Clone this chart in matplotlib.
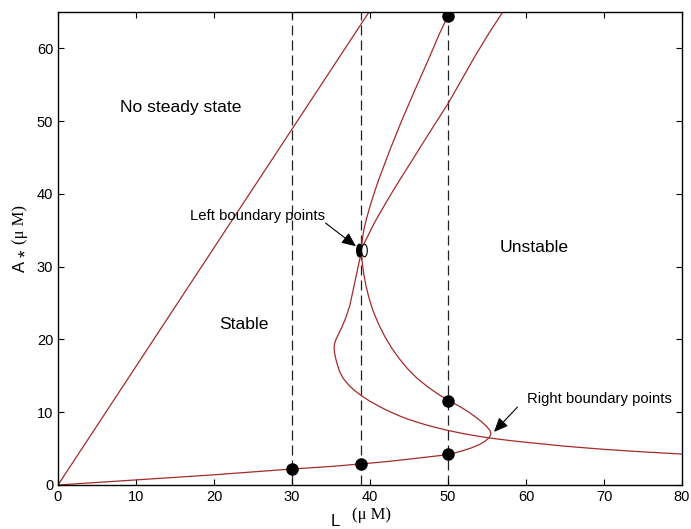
import numpy as np
import matplotlib
matplotlib.use("Agg")
import matplotlib.pyplot as plt
from matplotlib.path import Path
from matplotlib.transforms import Affine2D

# ---------------------------------------------------------------------------
# Data
# ---------------------------------------------------------------------------
# straight boundary line (no steady state above it)
line_L = [0, 40]
line_A = [0, 65.2]

# S-shaped steady-state curve
s1_L = [0, 2, 5, 10, 15, 20, 25, 30, 35, 38.9, 42, 45, 47, 49, 50, 51, 52,
        53, 54, 54.8, 55.3, 55.5, 55.4, 55.0, 54.3, 53.4, 52.4, 51.4, 50.3,
        49.0, 47.5, 46.0, 44.8, 43.8, 42.8, 41.9, 41.1, 40.4, 39.9, 39.5,
        39.2, 39.0, 38.9, 39.0, 39.2, 39.55, 40.0, 40.5, 41.1, 42.5, 44.0,
        45.6, 47.3, 48.9, 50.0, 50.3]
s1_A = [0, 0.14, 0.35, 0.7, 1.05, 1.4, 1.8, 2.2, 2.55, 2.9, 3.2, 3.55, 3.8,
        4.05, 4.2, 4.45, 4.75, 5.1, 5.55, 6.05, 6.55, 7.0, 7.45, 8.0, 8.7,
        9.45, 10.2, 10.85, 11.5, 12.3, 13.4, 14.7, 16.0, 17.3, 18.8, 20.4,
        22.1, 23.9, 25.6, 27.3, 29.0, 30.6, 32.1, 33.6, 35.0, 36.6, 38.3, 40.0,
        41.9, 45.9, 49.9, 53.9, 58.0, 62.0, 64.5, 65.2]

# C-shaped boundary curve
s2_L = [57.2, 55.2, 53.5, 51.7, 50, 48.2, 46.5, 45.1, 43.8, 42.6, 41.5, 40.6,
        39.9, 39.3, 38.9, 38.6, 38.2, 37.8, 37.4, 36.9, 36.4, 35.9, 35.6, 35.45,
        35.4, 35.45, 35.6, 35.8, 36.1, 36.6, 37.3, 38.0, 39.0, 40.0, 41.0,
        42.0, 43.0, 44.0, 45.0, 46.0, 47.0, 48.0, 49.0, 50.0, 52.0, 54.0, 55.4,
        58.0, 60.0, 65.0, 70.0, 75.0, 80.0]
s2_A = [65.3, 62.0, 59.0, 55.6, 52.4, 49.4, 46.5, 44.1, 41.9, 39.8, 37.8,
        36.1, 34.6, 33.3, 32.1, 30.6, 28.6, 26.6, 24.6, 23.0, 21.7, 20.6, 19.9,
        19.4, 18.8, 18.2, 17.4, 16.6, 15.6, 14.6, 13.7, 13.0, 12.2, 11.5, 10.9,
        10.35, 9.85, 9.4, 9.0, 8.65, 8.32, 8.02, 7.75, 7.5, 7.05, 6.68, 6.45,
        6.1, 5.87, 5.33, 4.9, 4.55, 4.25]

dash_L = [30, 38.9, 50]

dot_L = [30, 38.9, 50, 50, 50]
dot_A = [2.2, 2.9, 4.2, 11.5, 64.5]

left_pt_L = [38.6, 39.2]
left_pt_A = [32.3, 32.3]

xticks = [0, 10, 20, 30, 40, 50, 60, 70, 80]
yticks = [0, 10, 20, 30, 40, 50, 60]

# ---------------------------------------------------------------------------
# Figure
# ---------------------------------------------------------------------------
plt.rcParams["font.family"] = ["Liberation Sans", "DejaVu Sans"]
fig = plt.figure(figsize=(6.91, 5.29), dpi=100)
ax = fig.add_axes([58 / 691, 1 - 485 / 529, 624 / 691, 473 / 529])

red = "#a52a2a"
ax.plot(line_L, line_A, color=red, lw=0.9)
ax.plot(s1_L, s1_A, color=red, lw=0.9)
ax.plot(s2_L, s2_A, color=red, lw=0.9)

for x in dash_L:
    ax.axvline(x, color="#222222", lw=0.9, ls=(0, (8, 4)), zorder=1)

ax.plot(dot_L, dot_A, "o", color="black", ms=8, zorder=5)

narrow = Path.unit_circle().transformed(Affine2D().scale(0.45, 1.0))
ax.plot(left_pt_L[0], left_pt_A[0], marker=narrow, color="black", ms=9,
        ls="none", zorder=5)
ax.plot(left_pt_L[1], left_pt_A[1], marker=narrow, mfc="white", mec="black",
        mew=0.8, ms=9, ls="none", zorder=5)

ax.text(15.8, 51.9, "No steady state", fontsize=12.6, ha="center", va="center")
ax.text(61.0, 32.6, "Unstable", fontsize=12.6, ha="center", va="center")
ax.text(23.8, 22.0, "Stable", fontsize=12.6, ha="center", va="center")

ax.text(34.2, 37.0, "Left boundary points", fontsize=10.7, ha="right",
        va="center")
ax.text(60.1, 11.8, "Right boundary points", fontsize=10.7, ha="left",
        va="center")

arrow = dict(arrowstyle="-|>,head_width=0.35,head_length=0.8",
             color="black", lw=0.8, shrinkA=0, shrinkB=0)
ax.annotate("", xy=(38.2, 32.8), xytext=(34.3, 36.0), arrowprops=arrow,
            fontsize=10.7)
ax.annotate("", xy=(55.9, 7.3), xytext=(58.9, 10.7), arrowprops=arrow,
            fontsize=10.7)

ax.set_xlim(0, 80)
ax.set_ylim(0, 65)
ax.set_xticks(xticks)
ax.set_yticks(yticks)
ax.tick_params(direction="in", top=True, right=True, labelsize=10.5,
               length=4, width=0.8)
for sp in ax.spines.values():
    sp.set_linewidth(1.0)

# axis labels, placed piece by piece like the original
fig.text(335 / 691, 1 - 522 / 529, "L", fontsize=12, ha="center", va="center")
fig.text(372 / 691, 1 - 515 / 529, "(\u03bc M)", fontsize=12, ha="center",
         va="center", family="Liberation Serif")
fig.text(20 / 691, 1 - 266 / 529, "A", fontsize=12, ha="center", va="center",
         rotation=90)
fig.text(27 / 691, 1 - 253 / 529, "*", fontsize=14, ha="center", va="center",
         rotation=90)
fig.text(20 / 691, 1 - 224 / 529, "(\u03bc M)", fontsize=12, ha="center",
         va="center", rotation=90, family="Liberation Serif")

fig.savefig("out.png", dpi=100)
